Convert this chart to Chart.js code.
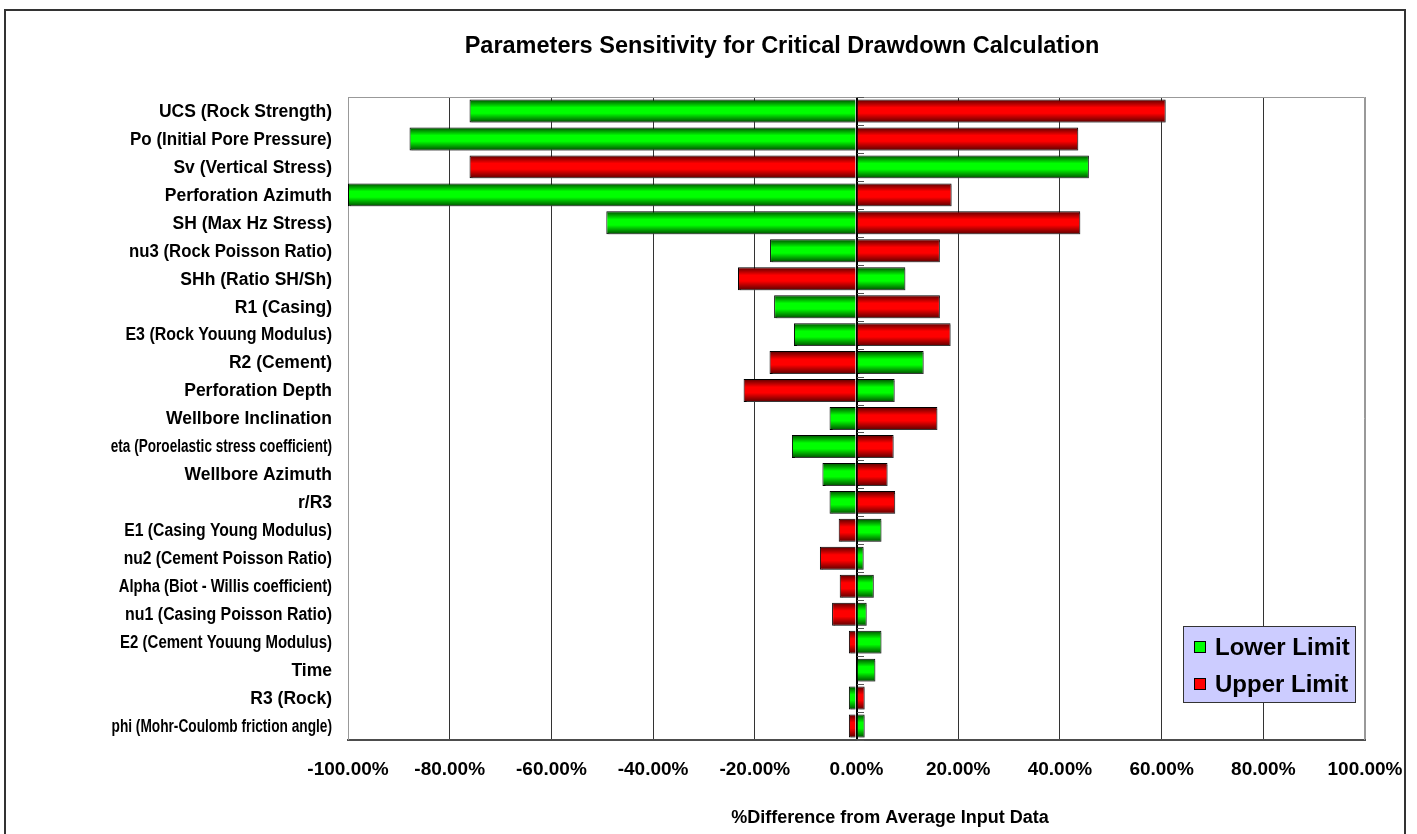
<!DOCTYPE html>
<html>
<head>
<meta charset="utf-8">
<title>Parameters Sensitivity for Critical Drawdown Calculation</title>
<script src="https://cdn.jsdelivr.net/npm/chart.js@4.4.1/dist/chart.umd.min.js"></script>
<style>
  html, body { margin: 0; padding: 0; background: #fff; }
  #wrap { width: 1417px; height: 834px; }
</style>
</head>
<body>
<div id="wrap"><canvas id="myChart"></canvas></div>
<script>
const FONT = "'Liberation Sans', Arial, sans-serif";

const params = [
  'UCS (Rock Strength)', 'Po (Initial Pore Pressure)', 'Sv (Vertical Stress)',
  'Perforation Azimuth', 'SH (Max Hz Stress)', 'nu3 (Rock Poisson Ratio)',
  'SHh (Ratio SH/Sh)', 'R1 (Casing)', 'E3 (Rock Youung Modulus)', 'R2 (Cement)',
  'Perforation Depth', 'Wellbore Inclination', 'eta (Poroelastic stress coefficient)',
  'Wellbore Azimuth', 'r/R3', 'E1 (Casing Young Modulus)', 'nu2 (Cement Poisson Ratio)',
  'Alpha (Biot - Willis coefficient)', 'nu1 (Casing Poisson Ratio)',
  'E2 (Cement Youung Modulus)', 'Time', 'R3 (Rock)', 'phi (Mohr-Coulomb friction angle)'
];

// % difference from the average case
const lowerLimit = [-76.1, -87.9, 45.7, -100, -49.2, -17.0, 9.6, -16.2, -12.3, 13.2, 7.5, -5.3,
  -12.7, -6.7, -5.3, 4.9, 1.4, 3.4, 2.0, 4.9, 3.7, -1.5, 1.6];
const upperLimit = [60.8, 43.6, -76.1, 18.7, 44.0, 16.4, -23.3, 16.4, 18.5, -17.1, -22.2, 15.9,
  7.3, 6.1, 7.6, -3.5, -7.2, -3.3, -4.8, -1.5, 0, 1.6, -1.5];

const xTickValues = [-100, -80, -60, -40, -20, 0, 20, 40, 60, 80, 100];

const BAR_PCT = 0.82;

// vertical shading on each bar: dark edges, bright middle
function barShade(dark, light) {
  return function (c) {
    const y = c.chart.scales && c.chart.scales.y;
    if (c.type !== 'data' || !y || !y.height) return light;
    const mid = y.getPixelForValue(c.dataIndex);
    const half = y.height / params.length * BAR_PCT / 2;
    const g = c.chart.ctx.createLinearGradient(0, mid - half, 0, mid + half);
    g.addColorStop(0, dark);
    g.addColorStop(0.35, light);
    g.addColorStop(0.6, light);
    g.addColorStop(1, dark);
    return g;
  };
}

const decor = {
  id: 'decor',
  beforeDraw(chart) {
    const c = chart.ctx;
    c.save();
    c.fillStyle = '#fff';
    c.fillRect(0, 0, chart.width, chart.height);
    c.strokeStyle = '#333';
    c.lineWidth = 2;
    c.strokeRect(5, 10, 1400, 860);
    c.restore();
  },
  beforeDatasetsDraw(chart) {
    const a = chart.chartArea, c = chart.ctx;
    const xs = chart.scales.x, ys = chart.scales.y;
    c.save();
    c.strokeStyle = '#999';
    c.lineWidth = 1;
    c.beginPath();
    c.moveTo(a.left + 0.5, a.bottom);
    c.lineTo(a.left + 0.5, a.top + 0.5);
    c.lineTo(a.right - 0.5, a.top + 0.5);
    c.lineTo(a.right - 0.5, a.bottom);
    c.stroke();
    // category tick marks on the zero axis
    const x0 = Math.round(xs.getPixelForValue(0));
    const pitch = ys.height / params.length;
    c.strokeStyle = '#555';
    c.beginPath();
    for (let i = 0; i <= params.length; i++) {
      const yy = Math.round(a.top + i * pitch) + 0.5;
      c.moveTo(x0, yy);
      c.lineTo(x0 + 7, yy);
    }
    c.stroke();
    c.restore();
    // soft drop shadow under the bars
    c.save();
    c.shadowColor = 'rgba(110,110,110,0.5)';
    c.shadowOffsetX = 2;
    c.shadowOffsetY = 2;
    c.shadowBlur = 0;
  },
  afterDatasetsDraw(chart) {
    chart.ctx.restore();
  },
  afterDraw(chart) {
    const a = chart.chartArea, c = chart.ctx;
    const ys = chart.scales.y;
    c.save();
    c.fillStyle = '#000';
    c.textAlign = 'center';
    c.textBaseline = 'middle';
    c.font = 'bold 23.5px ' + FONT;
    c.fillText('Parameters Sensitivity for Critical Drawdown Calculation', 782, 47);
    c.font = 'bold 18px ' + FONT;
    c.fillText('%Difference from Average Input Data', 890, 818);

    // category names; long ones are gently narrowed
    c.textAlign = 'right';
    c.font = 'bold 17.5px ' + FONT;
    chart.data.labels.forEach((lab, i) => {
      const w = c.measureText(lab).width;
      const fit = w > 200 ? 200 + (w - 200) * 0.25 : w;
      c.fillText(lab, a.left - 16, ys.getPixelForValue(i) + 1, fit);
    });

    // legend box in the lower right of the plot
    const bw = 172, bh = 76;
    const bx = a.right - 182, by = a.bottom - 114;
    c.fillStyle = '#ccccff';
    c.fillRect(bx, by, bw, bh);
    c.strokeStyle = '#333';
    c.lineWidth = 1;
    c.strokeRect(bx + 0.5, by + 0.5, bw, bh);
    c.textAlign = 'left';
    c.font = 'bold 24px ' + FONT;
    chart.data.datasets.forEach((ds, i) => {
      const cy = by + 21 + i * 37;
      c.fillStyle = ds.swatch;
      c.fillRect(bx + 11, cy - 6, 12, 12);
      c.strokeStyle = '#000';
      c.strokeRect(bx + 11.5, cy - 5.5, 11, 11);
      c.fillStyle = '#000';
      c.fillText(ds.label, bx + 32, cy + 1);
    });
    c.restore();
  }
};

const ctx = document.getElementById('myChart');

new Chart(ctx, {
  type: 'bar',
  data: {
    labels: params,
    datasets: [{
      label: 'Lower Limit',
      data: lowerLimit,
      swatch: '#00ff00',
      backgroundColor: barShade('#004c00', '#00ff00'),
      borderColor: '#000',
      borderWidth: 1
    }, {
      label: 'Upper Limit',
      data: upperLimit,
      swatch: '#ff0000',
      backgroundColor: barShade('#5a0000', '#ff0000'),
      borderColor: '#000',
      borderWidth: 1
    }]
  },
  options: {
    indexAxis: 'y',
    responsive: true,
    maintainAspectRatio: false,
    animation: false,
    grouped: false,
    barPercentage: BAR_PCT,
    categoryPercentage: 1,
    layout: { padding: { top: 97, left: 0, right: 52, bottom: 0 } },
    scales: {
      x: {
        min: -100,
        max: 100,
        afterBuildTicks: s => { s.ticks = xTickValues.map(v => ({ value: v })); },
        afterFit: s => { s.height = 94; s.paddingLeft = 0; s.paddingRight = 0; },
        ticks: {
          autoSkip: false,
          maxRotation: 0,
          padding: 18,
          color: '#000',
          font: { family: FONT, size: 19, weight: 'bold' },
          callback: v => v.toFixed(2) + '%'
        },
        grid: {
          drawTicks: false,
          color: c => c.tick && c.tick.value === 0 ? '#000'
            : (c.tick && Math.abs(c.tick.value) === 100 ? '#999' : '#333'),
          lineWidth: c => c.tick && c.tick.value === 0 ? 2 : 1
        },
        border: { color: '#4d4d4d', width: 2 }
      },
      y: {
        afterFit: s => { s.width = 348; },
        ticks: { display: false, autoSkip: false },
        grid: { display: false, drawTicks: false },
        border: { display: false }
      }
    },
    plugins: {
      legend: { display: false },
      title: { display: false },
      tooltip: { enabled: false }
    }
  },
  plugins: [decor]
});
</script>
</body>
</html>
